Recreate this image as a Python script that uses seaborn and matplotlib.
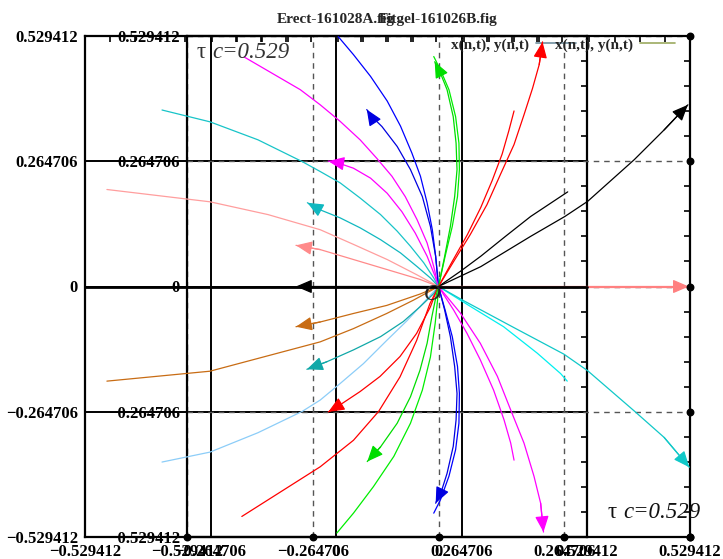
import matplotlib
matplotlib.use("Agg")
import matplotlib.pyplot as plt
import seaborn as sns
import pandas as pd
from matplotlib.lines import Line2D
from matplotlib.ticker import MultipleLocator

sns.set_style("white")
plt.rcParams["font.family"] = ["Liberation Serif", "DejaVu Serif"]

# ---------------- data ----------------
tick_vals = [-0.529412, -0.264706, 0.0, 0.264706, 0.529412]
tick_labels = ["\u22120.529412", "\u22120.264706", "0", "0.264706", "0.529412"]
title_outer = "Erect-161028A.fig"
title_inner = "Fitgel-161026B.fig"
legend_label = "x(n,t), y(n,t)"
tau_label = "c=0.529"

# plain trajectories (no arrow heads)
blue_up_x = [0, -0.006, -0.013, -0.024, -0.038, -0.056, -0.080, -0.108, -0.143, -0.179, -0.211]
blue_up_y = [0, 0.064, 0.120, 0.177, 0.233, 0.282, 0.339, 0.392, 0.444, 0.490, 0.528]
mag_up_x = [0, -0.010, -0.024, -0.045, -0.070, -0.098, -0.130, -0.165, -0.207, -0.249, -0.291, -0.409]
mag_up_y = [0, 0.042, 0.092, 0.141, 0.190, 0.233, 0.271, 0.310, 0.349, 0.384, 0.416, 0.485]
cyan_ul_x = [0, -0.010, -0.031, -0.059, -0.087, -0.122, -0.165, -0.207, -0.249, -0.287, -0.380, -0.481, -0.582]
cyan_ul_y = [0, 0.018, 0.050, 0.085, 0.117, 0.152, 0.187, 0.219, 0.243, 0.264, 0.310, 0.348, 0.373]
pink_ul_x = [0, -0.046, -0.108, -0.179, -0.249, -0.359, -0.481, -0.698]
pink_ul_y = [0, 0.025, 0.057, 0.089, 0.120, 0.152, 0.179, 0.205]
orange_ll_x = [0, -0.053, -0.109, -0.179, -0.249, -0.481, -0.698]
orange_ll_y = [0, -0.029, -0.057, -0.089, -0.117, -0.179, -0.200]
lblue_ll_x = [0, -0.024, -0.066, -0.109, -0.158, -0.207, -0.249, -0.287, -0.380, -0.481, -0.582]
lblue_ll_y = [0, -0.026, -0.072, -0.114, -0.163, -0.205, -0.240, -0.264, -0.309, -0.350, -0.371]
red_ll_x = [0, -0.018, -0.046, -0.081, -0.126, -0.179, -0.249, -0.414]
red_ll_y = [0, -0.036, -0.114, -0.191, -0.264, -0.325, -0.381, -0.486]
green_dn_x = [0, -0.002, -0.007, -0.017, -0.034, -0.059, -0.094, -0.137, -0.179, -0.214]
green_dn_y = [0, -0.029, -0.078, -0.149, -0.219, -0.289, -0.359, -0.423, -0.479, -0.521]
red_ur_x = [0, 0.029, 0.061, 0.089, 0.113, 0.134, 0.148, 0.159]
red_ur_y = [0, 0.053, 0.110, 0.167, 0.224, 0.280, 0.329, 0.371]
black_ur_x = [0, 0.046, 0.089, 0.141, 0.194, 0.236, 0.272]
black_ur_y = [0, 0.032, 0.064, 0.106, 0.148, 0.176, 0.200]
cyan_lr_x = [0, 0.067, 0.137, 0.208, 0.257, 0.271]
cyan_lr_y = [0, -0.042, -0.085, -0.141, -0.184, -0.200]
mag_lr_x = [0, 0.032, 0.060, 0.088, 0.116, 0.138, 0.152, 0.159]
mag_lr_y = [0, -0.050, -0.099, -0.155, -0.219, -0.282, -0.331, -0.367]
green_up_x = [0, 0.014, 0.029, 0.040, 0.044, 0.043, 0.036, 0.022, 0.004, -0.010]
green_up_y = [0, 0.064, 0.127, 0.190, 0.247, 0.303, 0.359, 0.416, 0.458, 0.486]
blue_dn_x = [0, 0.014, 0.029, 0.040, 0.044, 0.043, 0.036, 0.022, 0.004, -0.010]
blue_dn_y = [0, -0.050, -0.106, -0.169, -0.226, -0.289, -0.345, -0.401, -0.451, -0.479]

# trajectories ending with arrow heads
a_blue_ul_x = [0, -0.006, -0.017, -0.034, -0.059, -0.087, -0.119, -0.144, -0.151]
a_blue_ul_y = [0, 0.064, 0.127, 0.190, 0.247, 0.296, 0.338, 0.363, 0.374]
a_mag_ul_x = [0, -0.007, -0.024, -0.049, -0.077, -0.108, -0.143, -0.179, -0.214, -0.232]
a_mag_ul_y = [0, 0.021, 0.064, 0.113, 0.158, 0.197, 0.229, 0.250, 0.262, 0.265]
a_cyan_ul_x = [0, -0.017, -0.045, -0.080, -0.122, -0.165, -0.207, -0.249, -0.276]
a_cyan_ul_y = [0, 0.018, 0.042, 0.071, 0.099, 0.124, 0.145, 0.162, 0.177]
a_pink_ul_x = [0, -0.039, -0.109, -0.179, -0.249, -0.300]
a_pink_ul_y = [0, 0.015, 0.036, 0.057, 0.078, 0.087]
a_black_l_x = [0, -0.300]
a_black_l_y = [0, 0]
a_orange_ll_x = [0, -0.039, -0.109, -0.179, -0.249, -0.300]
a_orange_ll_y = [0, -0.016, -0.040, -0.057, -0.075, -0.085]
a_teal_ll_x = [0, -0.010, -0.039, -0.074, -0.122, -0.179, -0.235, -0.277]
a_teal_ll_y = [0, -0.015, -0.043, -0.074, -0.106, -0.134, -0.159, -0.175]
a_red_ll_x = [0, -0.004, -0.017, -0.046, -0.081, -0.123, -0.165, -0.207, -0.232]
a_red_ll_y = [0, -0.008, -0.043, -0.099, -0.148, -0.190, -0.222, -0.250, -0.265]
a_green_ll_x = [0, -0.004, -0.014, -0.024, -0.039, -0.059, -0.087, -0.122, -0.150]
a_green_ll_y = [0, -0.015, -0.064, -0.120, -0.177, -0.233, -0.289, -0.339, -0.370]
a_green_up_x = [0, 0.013, 0.025, 0.034, 0.039, 0.037, 0.031, 0.018, 0.004, -0.008]
a_green_up_y = [0, 0.064, 0.127, 0.190, 0.247, 0.303, 0.359, 0.416, 0.451, 0.475]
a_red_ur_x = [0, 0.032, 0.067, 0.102, 0.130, 0.159, 0.180, 0.198, 0.212, 0.219]
a_red_ur_y = [0, 0.053, 0.110, 0.173, 0.236, 0.300, 0.363, 0.419, 0.469, 0.517]
a_black_ur_x = [0, 0.089, 0.194, 0.266, 0.314, 0.412, 0.475, 0.525]
a_black_ur_y = [0, 0.042, 0.106, 0.148, 0.180, 0.268, 0.331, 0.384]
a_pink_r_x = [0, 0.527]
a_pink_r_y = [0, 0]
a_cyan_lr_x = [0, 0.053, 0.159, 0.264, 0.314, 0.412, 0.475, 0.528]
a_cyan_lr_y = [0, -0.030, -0.087, -0.143, -0.178, -0.263, -0.319, -0.382]
a_mag_lr_x = [0, 0.046, 0.088, 0.124, 0.152, 0.180, 0.201, 0.215, 0.221]
a_mag_lr_y = [0, -0.056, -0.120, -0.190, -0.261, -0.331, -0.401, -0.458, -0.519]
a_blue_dn_x = [0, 0.013, 0.025, 0.034, 0.039, 0.037, 0.031, 0.018, 0.006, -0.006]
a_blue_dn_y = [0, -0.050, -0.106, -0.169, -0.226, -0.282, -0.338, -0.395, -0.433, -0.458]

# (name, x, y, colour, arrow)
curves = [
    ("blue_up", blue_up_x, blue_up_y, "#0000ff", False),
    ("mag_up", mag_up_x, mag_up_y, "#ff00ff", False),
    ("cyan_ul", cyan_ul_x, cyan_ul_y, "#18c4c8", False),
    ("pink_ul", pink_ul_x, pink_ul_y, "#ff9e9e", False),
    ("orange_ll", orange_ll_x, orange_ll_y, "#c86c14", False),
    ("lblue_ll", lblue_ll_x, lblue_ll_y, "#8ccdf8", False),
    ("red_ll", red_ll_x, red_ll_y, "#ff0000", False),
    ("green_dn", green_dn_x, green_dn_y, "#00ee00", False),
    ("red_ur", red_ur_x, red_ur_y, "#ff0000", False),
    ("black_ur", black_ur_x, black_ur_y, "#000000", False),
    ("cyan_lr", cyan_lr_x, cyan_lr_y, "#00f0f0", False),
    ("mag_lr", mag_lr_x, mag_lr_y, "#ff00ff", False),
    ("green_up", green_up_x, green_up_y, "#00ee00", False),
    ("blue_dn", blue_dn_x, blue_dn_y, "#0000ff", False),
    ("a_blue_ul", a_blue_ul_x, a_blue_ul_y, "#0000e0", True),
    ("a_mag_ul", a_mag_ul_x, a_mag_ul_y, "#ff00ff", True),
    ("a_cyan_ul", a_cyan_ul_x, a_cyan_ul_y, "#10b8c0", True),
    ("a_pink_ul", a_pink_ul_x, a_pink_ul_y, "#ff8a8a", True),
    ("a_black_l", a_black_l_x, a_black_l_y, "#000000", True),
    ("a_orange_ll", a_orange_ll_x, a_orange_ll_y, "#c86c14", True),
    ("a_teal_ll", a_teal_ll_x, a_teal_ll_y, "#10a8a8", True),
    ("a_red_ll", a_red_ll_x, a_red_ll_y, "#ff0000", True),
    ("a_green_ll", a_green_ll_x, a_green_ll_y, "#00dd00", True),
    ("a_green_up", a_green_up_x, a_green_up_y, "#00dd00", True),
    ("a_red_ur", a_red_ur_x, a_red_ur_y, "#ff0000", True),
    ("a_black_ur", a_black_ur_x, a_black_ur_y, "#000000", True),
    ("a_pink_r", a_pink_r_x, a_pink_r_y, "#ff8080", True),
    ("a_cyan_lr", a_cyan_lr_x, a_cyan_lr_y, "#10c8c8", True),
    ("a_mag_lr", a_mag_lr_x, a_mag_lr_y, "#ff00ff", True),
    ("a_blue_dn", a_blue_dn_x, a_blue_dn_y, "#0000e0", True),
]

# ---------------- figure ----------------
W, H = 723, 559
fig = plt.figure(figsize=(W / 100, H / 100), dpi=100)
ax1 = fig.add_axes([85 / W, 22 / H, 502 / W, 501 / H])
ax2 = fig.add_axes([187 / W, 22 / H, 503 / W, 501 / H])
ax2.patch.set_visible(False)

lim = (tick_vals[0], tick_vals[-1])
tick_font = dict(fontsize=12, fontweight="bold")
for ax in (ax1, ax2):
    ax.set_xlim(*lim)
    ax.set_ylim(*lim)
    ax.set_xticks(tick_vals)
    ax.set_yticks(tick_vals)
    ax.set_xticklabels(tick_labels, **tick_font)
    ax.set_yticklabels(tick_labels, **tick_font)
    ax.xaxis.set_minor_locator(MultipleLocator(tick_vals[-1] / 10))
    ax.yaxis.set_minor_locator(MultipleLocator(tick_vals[-1] / 10))
    ax.tick_params(which="both", direction="in", top=True, right=True, colors="black")
    ax.tick_params(which="major", length=0, pad=5)
    ax.tick_params(which="minor", length=4, width=1.2)
    for s in ax.spines.values():
        s.set_linewidth(1.6)
        s.set_color("black")

ax1.grid(True, which="major", color="black", lw=1.4, ls="-")
ax2.grid(True, which="major", color="#555555", lw=1.0, ls=(0, (4, 3.5)))
ax1.set_axisbelow(True)

ax1.set_title(title_outer, fontsize=11, fontweight="bold", pad=9)
ax2.set_title(title_inner, fontsize=11, fontweight="bold", pad=9)

# curves
rows = []
for name, xs, ys, col, arr in curves:
    for i, (xx, yy) in enumerate(zip(xs, ys)):
        rows.append(dict(curve=name, order=i, x=xx, y=yy))
df = pd.DataFrame(rows)
palette = {name: col for name, xs, ys, col, arr in curves}
n_before = len(ax2.lines)
sns.lineplot(data=df, x="x", y="y", hue="curve", palette=palette, sort=False,
             estimator=None, legend=False, lw=0.9, ax=ax2, zorder=3)
for ln in ax2.lines[n_before:]:
    ln.set_clip_on(False)
    ln.set_solid_joinstyle("round")
for name, xs, ys, col, arr in curves:
    if arr:
        ax2.annotate("", xy=(xs[-1], ys[-1]), xytext=(xs[-2], ys[-2]),
                     arrowprops=dict(arrowstyle="-|>,head_length=0.7,head_width=0.3",
                                     color=col, lw=0.9, shrinkA=0, shrinkB=0,
                                     mutation_scale=14),
                     zorder=4, annotation_clip=False)
ax2.set_xlabel("")
ax2.set_ylabel("")
ax2.set_xlim(*lim)
ax2.set_ylim(*lim)

# thick zero axis line drawn over the curves
ax2.axhline(0, xmin=(85 - 187) / 503, xmax=(587 - 187) / 503, color="black",
            lw=2.0, clip_on=False, zorder=5)

# dots at the inner grid ends
ax2.scatter(tick_vals, [lim[0]] * len(tick_vals), s=22, color="black", clip_on=False, zorder=6)
ax2.scatter([lim[1]] * len(tick_vals), tick_vals, s=22, color="black", clip_on=False, zorder=6)

# origin label
ax2.annotate("O", xy=(0, 0), xytext=(-4.5, -6), textcoords="offset points",
             ha="center", va="center", fontsize=17, fontstyle="italic", zorder=7)

# legends
leg_font = dict(weight="bold", size=11)
h1 = Line2D([], [], color="#6f8fa0", lw=1.2)
h2 = Line2D([], [], color="#9caa60", lw=1.2)
ax1.legend([h1], [legend_label], loc="upper right", bbox_to_anchor=(0.978, 0.996),
           frameon=False, markerfirst=False, handlelength=2.6, handletextpad=0.45,
           borderaxespad=0, borderpad=0, prop=leg_font)
ax2.legend([h2], [legend_label], loc="upper right", bbox_to_anchor=(0.970, 0.996),
           frameon=False, markerfirst=False, handlelength=2.3, handletextpad=0.45,
           borderaxespad=0, borderpad=0, prop=leg_font)

# tau annotations
fig.text(197 / W, 1 - 58 / H, "\u03c4", fontsize=16.5, color="#333333", va="baseline")
fig.text(212 / W, 1 - 58 / H, tau_label, fontsize=16.5, fontstyle="italic",
         color="#333333", va="baseline")
fig.text(608 / W, 1 - 518 / H, "\u03c4", fontsize=16.5, color="#111111", va="baseline")
fig.text(623 / W, 1 - 518 / H, tau_label, fontsize=16.5, fontstyle="italic",
         color="#111111", va="baseline")

fig.savefig("out.png", dpi=100)
